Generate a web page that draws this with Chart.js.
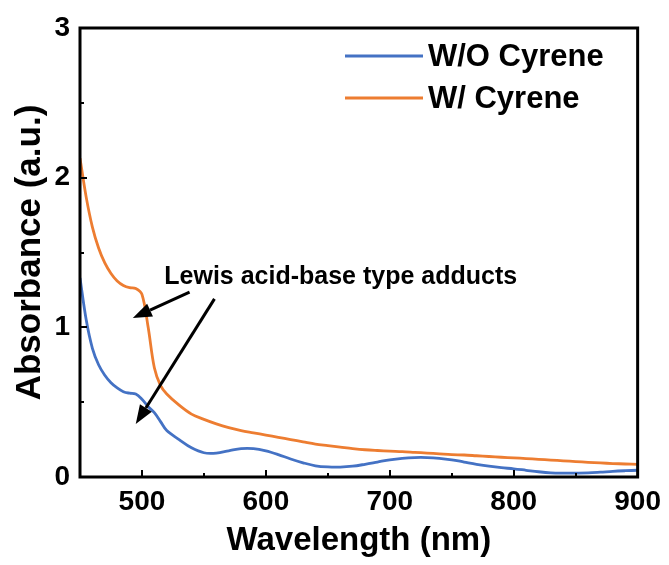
<!DOCTYPE html>
<html>
<head>
<meta charset="utf-8">
<title>Absorbance spectra</title>
<script src="https://cdn.jsdelivr.net/npm/chart.js@4.4.0/dist/chart.umd.min.js"></script>
<style>
	html, body { margin: 0; padding: 0; background: #fff; }
	#absChart { display: block; }
</style>
</head>
<body>
<canvas id="absChart" width="669" height="565"></canvas>
<script>
// --- Spectra (nm, a.u.) ---
const wavelengths = [
	450, 455, 460, 465, 470, 475, 480, 485, 490, 495, 500, 505, 510, 515, 520,
	530, 540, 550, 560, 570, 580, 590, 600, 610, 620, 630, 640, 650, 660, 670,
	680, 690, 700, 710, 720, 730, 740, 750, 760, 770, 780, 790, 800, 810, 820,
	830, 840, 850, 860, 870, 880, 890, 900,
];
const absWithout = [
	1.33, 1.05, 0.86, 0.75, 0.68, 0.63, 0.595, 0.57, 0.56, 0.555, 0.52, 0.47, 0.43, 0.37, 0.31,
	0.25, 0.195, 0.162, 0.16, 0.175, 0.19, 0.19, 0.175, 0.15, 0.12, 0.095, 0.075, 0.067, 0.066, 0.072,
	0.085, 0.1, 0.115, 0.125, 0.13, 0.13, 0.125, 0.115, 0.1, 0.085, 0.072, 0.062, 0.055, 0.045, 0.035,
	0.028, 0.026, 0.026, 0.027, 0.032, 0.038, 0.042, 0.045,
];
const absWith = [
	2.13, 1.87, 1.67, 1.53, 1.43, 1.36, 1.31, 1.28, 1.265, 1.26, 1.22, 1.0, 0.73, 0.61, 0.555,
	0.48, 0.42, 0.385, 0.355, 0.33, 0.31, 0.295, 0.28, 0.265, 0.25, 0.235, 0.22, 0.21, 0.2, 0.19,
	0.182, 0.177, 0.173, 0.17, 0.165, 0.16, 0.155, 0.15, 0.147, 0.142, 0.137, 0.132, 0.128, 0.123, 0.118,
	0.113, 0.108, 0.103, 0.098, 0.094, 0.09, 0.087, 0.084,
];
const seriesLabels = ["W/O Cyrene", "W/ Cyrene"];
const seriesColors = ["#4472c4", "#ed7d31"];

// --- Axes ---
const xTicks = [500, 600, 700, 800, 900];
const xMinorTicks = [550, 650, 750, 850];
const yTicks = [0, 1, 2, 3];
const yMinorTicks = [0.5, 1.5, 2.5];

// --- Note and its two arrows, in data units ---
const noteText = "Lewis acid-base type adducts";
const notePos = [518, 1.29];
const arrowFrom = [[538.4, 1.236], [558.5, 1.19]];
const arrowTo = [[492.6, 1.062], [495, 0.354]];

const FONT = '"Liberation Sans", Arial, sans-serif';

function toPoints(ys) {
	return wavelengths.map((w, i) => ({ x: w, y: ys[i] }));
}

function drawArrow(ctx, x0, y0, x1, y1) {
	const ang = Math.atan2(y1 - y0, x1 - x0);
	const headLen = 19;
	const headHalf = 7;
	const bx = x1 - headLen * Math.cos(ang);
	const by = y1 - headLen * Math.sin(ang);
	ctx.beginPath();
	ctx.moveTo(x0, y0);
	ctx.lineTo(bx, by);
	ctx.stroke();
	ctx.beginPath();
	ctx.moveTo(x1, y1);
	ctx.lineTo(bx + headHalf * Math.sin(ang), by - headHalf * Math.cos(ang));
	ctx.lineTo(bx - headHalf * Math.sin(ang), by + headHalf * Math.cos(ang));
	ctx.closePath();
	ctx.fill();
}

// Box frame, inward ticks, legend and note
const frameAndNotes = {
	id: "frameAndNotes",
	afterDraw(chart) {
		const { ctx, chartArea: a, scales } = chart;
		const xs = scales.x;
		const ys = scales.y;
		ctx.save();
		ctx.strokeStyle = "#000";
		ctx.fillStyle = "#000";
		ctx.lineCap = "butt";

		// ticks
		ctx.lineWidth = 2;
		ctx.beginPath();
		xTicks.forEach((v) => {
			const px = Math.round(xs.getPixelForValue(v));
			ctx.moveTo(px, a.bottom);
			ctx.lineTo(px, a.bottom - 7);
		});
		xMinorTicks.forEach((v) => {
			const px = Math.round(xs.getPixelForValue(v));
			ctx.moveTo(px, a.bottom);
			ctx.lineTo(px, a.bottom - 4);
		});
		yTicks.forEach((v) => {
			const py = Math.round(ys.getPixelForValue(v));
			ctx.moveTo(a.left, py);
			ctx.lineTo(a.left + 7, py);
		});
		yMinorTicks.forEach((v) => {
			const py = Math.round(ys.getPixelForValue(v));
			ctx.moveTo(a.left, py);
			ctx.lineTo(a.left + 4, py);
		});
		ctx.stroke();

		// frame
		ctx.lineWidth = 3;
		ctx.strokeRect(a.left, a.top, a.right - a.left, a.bottom - a.top);

		// legend
		ctx.font = "bold 31px " + FONT;
		ctx.textBaseline = "middle";
		ctx.textAlign = "left";
		chart.data.datasets.forEach((ds, i) => {
			const y = 56 + i * 42;
			ctx.strokeStyle = ds.borderColor;
			ctx.lineWidth = 3;
			ctx.beginPath();
			ctx.moveTo(345, y);
			ctx.lineTo(423, y);
			ctx.stroke();
			ctx.fillStyle = "#000";
			ctx.fillText(ds.label, 428, y + 1);
		});

		// note
		ctx.fillStyle = "#000";
		ctx.strokeStyle = "#000";
		ctx.font = "bold 25px " + FONT;
		ctx.textBaseline = "alphabetic";
		ctx.fillText(noteText, xs.getPixelForValue(notePos[0]), ys.getPixelForValue(notePos[1]));
		ctx.lineWidth = 3;
		arrowFrom.forEach((p, i) => {
			drawArrow(
				ctx,
				xs.getPixelForValue(p[0]), ys.getPixelForValue(p[1]),
				xs.getPixelForValue(arrowTo[i][0]), ys.getPixelForValue(arrowTo[i][1])
			);
		});
		ctx.restore();
	},
};

const ctx = document.getElementById("absChart");
new Chart(ctx, {
	type: "line",
	data: {
		datasets: [
			{
				label: seriesLabels[0],
				data: toPoints(absWithout),
				borderColor: seriesColors[0],
				borderWidth: 2.8,
				pointRadius: 0,
				tension: 0.35,
				fill: false,
			},
			{
				label: seriesLabels[1],
				data: toPoints(absWith),
				borderColor: seriesColors[1],
				borderWidth: 2.8,
				pointRadius: 0,
				tension: 0.35,
				fill: false,
			},
		],
	},
	options: {
		responsive: false,
		animation: false,
		layout: { padding: { top: 28, right: 29, left: 0, bottom: 0 } },
		plugins: {
			legend: { display: false },
			tooltip: { enabled: false },
		},
		scales: {
			x: {
				type: "linear",
				min: 450,
				max: 900,
				afterBuildTicks: (s) => {
					s.ticks = xTicks.map((v) => ({ value: v }));
				},
				afterFit: (s) => {
					s.height = 88;
				},
				grid: { display: false, drawTicks: false },
				border: { display: false },
				ticks: {
					color: "#000",
					padding: 8,
					maxRotation: 0,
					autoSkip: false,
					font: { family: FONT, size: 28, weight: "bold" },
				},
				title: {
					display: true,
					text: "Wavelength (nm)",
					color: "#000",
					font: { family: FONT, size: 33, weight: "bold" },
					padding: { top: 0, bottom: 4 },
				},
			},
			y: {
				min: 0,
				max: 3,
				afterBuildTicks: (s) => {
					s.ticks = yTicks.map((v) => ({ value: v }));
				},
				afterFit: (s) => {
					s.width = 80;
				},
				grid: { display: false, drawTicks: false },
				border: { display: false },
				ticks: {
					color: "#000",
					padding: 10,
					font: { family: FONT, size: 28, weight: "bold" },
				},
				title: {
					display: true,
					text: "Absorbance (a.u.)",
					color: "#000",
					font: { family: FONT, size: 35, weight: "bold" },
					padding: { top: 9, bottom: 0 },
				},
			},
		},
	},
	plugins: [frameAndNotes],
});
</script>
</body>
</html>
